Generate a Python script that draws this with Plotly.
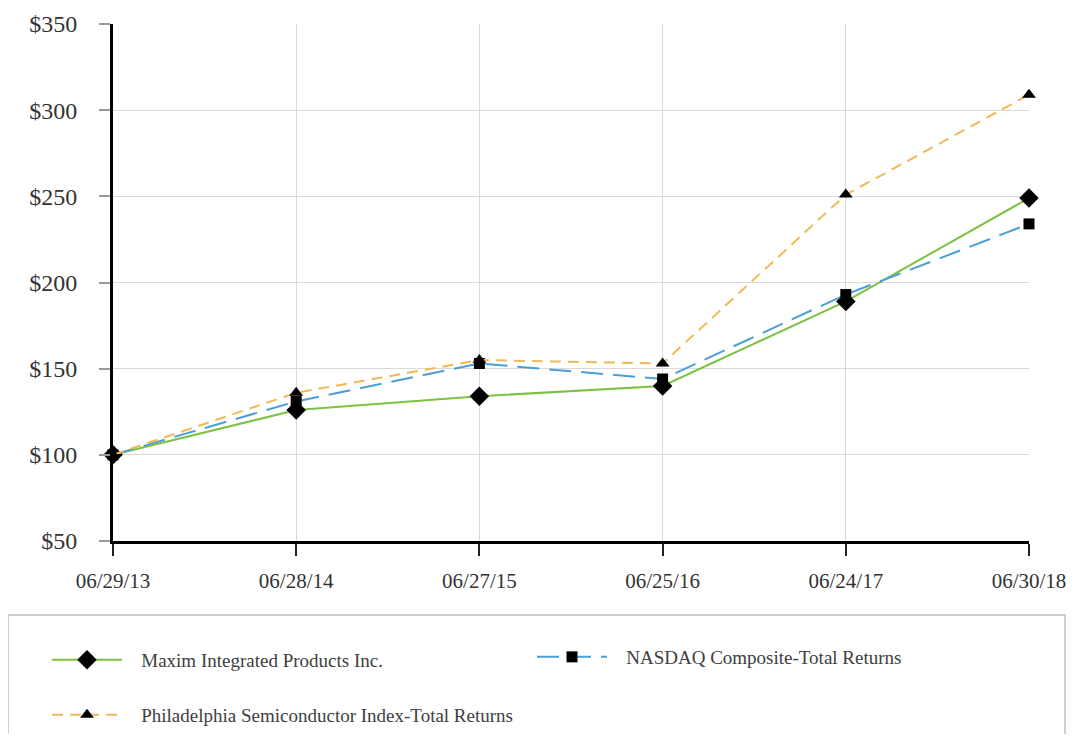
import plotly.graph_objects as go

dates = ["06/29/13", "06/28/14", "06/27/15", "06/25/16", "06/24/17", "06/30/18"]
maxim = [100, 126, 134, 140, 189, 249]
nasdaq = [100, 131, 153, 144, 193, 234]
sox = [100, 136, 155, 153, 251, 309]
y_ticks = [50, 100, 150, 200, 250, 300, 350]
y_labels = ["$50", "$100", "$150", "$200", "$250", "$300", "$350"]

names = ["Maxim Integrated Products Inc.",
         "NASDAQ Composite-Total Returns",
         "Philadelphia Semiconductor Index-Total Returns"]

# page body has an 8px margin; work in viewport pixels and shift
OFF = 8
W, H = 1074 - 2 * OFF, 746 - 2 * OFF - 4
L, T = 113 - OFF, 24 - OFF
R = W - (1029 - OFF)
B = H - (541 - OFF)
pw, ph = W - L - R, H - T - B

def px_x(p):
    return (p - OFF - L) / pw

def px_y(p):
    return ((541 - OFF) - (p - OFF)) / ph

GAP = "\u00a0\u00a0\u00a0"

fig = go.Figure()
fig.add_trace(go.Scatter(
    x=dates, y=maxim, name=GAP + names[0], mode="lines+markers",
    line=dict(color="#7cc242", width=2),
    marker=dict(symbol="diamond", size=15, color="black"),
    cliponaxis=False, legend="legend", showlegend=True))
fig.add_trace(go.Scatter(
    x=dates, y=nasdaq, name=GAP + names[1], mode="lines+markers",
    line=dict(color="#4a9fd6", width=2, dash="22px,10px"),
    marker=dict(symbol="square", size=11, color="black"),
    cliponaxis=False, legend="legend2", showlegend=True))
fig.add_trace(go.Scatter(
    x=dates, y=sox, name=GAP + names[2], mode="lines+markers",
    line=dict(color="#f0b855", width=2, dash="11px,7px"),
    marker=dict(symbol="triangle-up", size=12, color="black"),
    cliponaxis=False, legend="legend3", showlegend=True))

font_family = "Liberation Serif"
leg_common = dict(font=dict(family=font_family, size=19, color="#404040"),
                  bgcolor="rgba(0,0,0,0)", borderwidth=0, itemwidth=70,
                  xanchor="left", yanchor="middle", visible=True)

fig.update_layout(
    width=W, height=H, showlegend=True,
    margin=dict(l=L, r=R, t=T, b=B, pad=0, autoexpand=False),
    paper_bgcolor="white", plot_bgcolor="white",
    font=dict(family=font_family, size=20, color="#333333"),
    xaxis=dict(
        type="category", range=[0, 5], tickvals=dates, automargin=False,
        showgrid=True, gridcolor="#d9d9d9", gridwidth=1,
        showline=True, linecolor="black", linewidth=3,
        ticks="outside", ticklen=12, tickcolor="#222222", tickwidth=1.5,
        ticklabelstandoff=7,
        tickfont=dict(family=font_family, size=21, color="#333333"),
        zeroline=False),
    yaxis=dict(
        range=[50, 350], tickvals=y_ticks, ticktext=y_labels, automargin=False,
        showgrid=True, gridcolor="#d9d9d9", gridwidth=1,
        showline=True, linecolor="black", linewidth=3,
        ticks="outside", ticklen=11, tickcolor="#999999", tickwidth=1.5,
        ticklabelstandoff=17,
        tickfont=dict(family=font_family, size=24, color="#333333"),
        zeroline=False),
    legend=dict(x=px_x(47), y=px_y(660), **leg_common),
    legend2=dict(x=px_x(532), y=px_y(657), **leg_common),
    legend3=dict(x=px_x(47), y=px_y(715), **leg_common),
    shapes=[dict(type="rect", xref="paper", yref="paper",
                 x0=px_x(8), x1=px_x(1065), y0=px_y(615), y1=px_y(780),
                 line=dict(color="#bfbfbf", width=1.5), fillcolor="rgba(0,0,0,0)",
                 layer="below")],
)

fig.write_html("out.html")
